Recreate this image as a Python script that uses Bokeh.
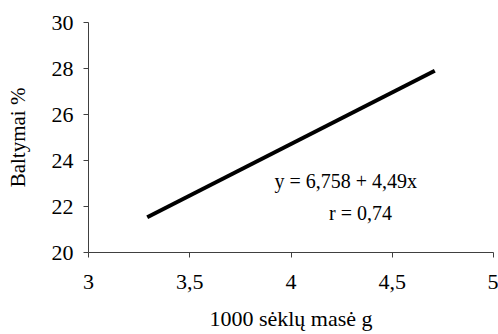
from bokeh.plotting import figure
from bokeh.models import Range1d, FixedTicker
from bokeh.core.properties import value
from bokeh.embed import file_html
from bokeh.resources import INLINE

# Data
x_line = [3.29, 4.71]
y_line = [21.53, 27.90]
x_ticks = [3, 3.5, 4, 4.5, 5]
x_tick_labels = ["3", "3,5", "4", "4,5", "5"]
y_ticks = [20, 22, 24, 26, 28, 30]
y_tick_labels = ["20", "22", "24", "26", "28", "30"]
ann_text = ["y = 6,758 + 4,49x", "r = 0,74"]
ann_x = [4.27, 4.343]
ann_y = [23.09, 21.70]
x_title = "1000 sėklų masė g"
y_title = "Baltymai %"

FONT = "Liberation Serif"

p = figure(width=498, height=334, output_backend="svg", toolbar_location=None,
           x_range=Range1d(3, 5), y_range=Range1d(20, 30),
           min_border_left=88, min_border_right=5, min_border_top=22, min_border_bottom=82)
p.outline_line_color = None
p.grid.visible = False
p.background_fill_color = "white"
p.border_fill_color = "white"

p.xaxis.ticker = FixedTicker(ticks=x_ticks)
p.xaxis.major_label_overrides = {t: l for t, l in zip(x_ticks, x_tick_labels)}
p.yaxis.ticker = FixedTicker(ticks=y_ticks)
p.yaxis.major_label_overrides = {t: l for t, l in zip(y_ticks, y_tick_labels)}

for ax in (p.xaxis, p.yaxis):
    ax.axis_line_color = "#404040"
    ax.axis_line_width = 1
    ax.major_tick_line_color = "#404040"
    ax.major_tick_in = 0
    ax.major_tick_out = 5
    ax.minor_tick_line_color = None
    ax.major_label_text_font = FONT
    ax.major_label_text_font_size = "22px"
    ax.major_label_text_color = "black"
    ax.axis_label_text_font = FONT
    ax.axis_label_text_font_style = "normal"
    ax.axis_label_text_color = "black"

p.xaxis.axis_label = x_title
p.yaxis.axis_label = y_title
p.xaxis.axis_label_text_font_size = "22px"
p.yaxis.axis_label_text_font_size = "21px"
p.xaxis.major_label_standoff = 17
p.yaxis.major_label_standoff = 10
p.xaxis.axis_label_standoff = 14
p.yaxis.axis_label_standoff = 19

p.line(x_line, y_line, line_width=4, line_color="black")

p.text(x=ann_x, y=ann_y, text=ann_text, text_font=value(FONT), text_font_size="20px",
       text_align="center", text_baseline="alphabetic", text_color="black")

open("out.html", "w").write(file_html(p, INLINE))
